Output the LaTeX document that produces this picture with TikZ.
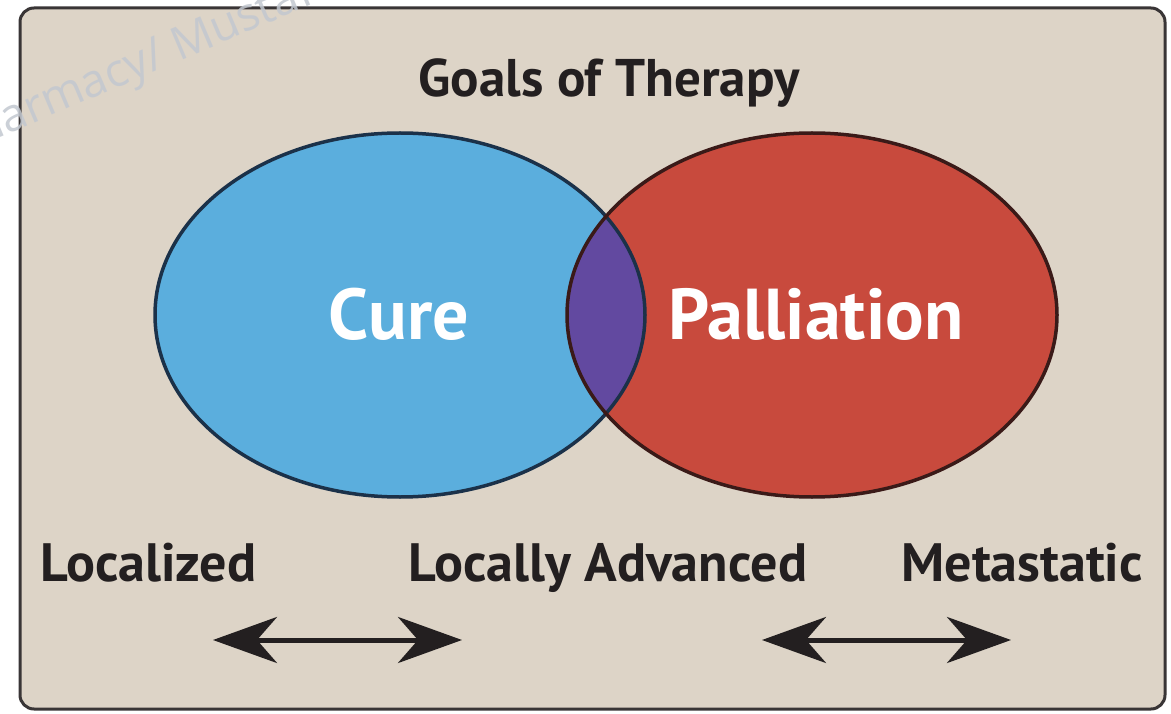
\documentclass[tikz,border=0pt]{standalone}
\usepackage{fontspec}
\setmainfont{PT Sans}
\newfontfamily\markfont{Open Sans}
\usetikzlibrary{arrows.meta}
\definecolor{paper}{HTML}{DDD4C7}
\definecolor{cureblue}{HTML}{5BAEDD}
\definecolor{palred}{HTML}{C84A3D}
\definecolor{overlap}{HTML}{6249A0}
\definecolor{inkdark}{HTML}{231F20}
\definecolor{blueedge}{HTML}{1B3149}
\definecolor{rededge}{HTML}{3A1A18}
\definecolor{markgray}{HTML}{C3C8D0}
\tikzset{
  label/.style={font=\bfseries\fontsize{54}{64}\selectfont, text=inkdark, inner sep=0pt},
  inside/.style={font=\bfseries\fontsize{72}{84}\selectfont, text=white, inner sep=0pt},
  twoway/.style={line width=5pt, draw=inkdark, {Stealth[length=64pt, width=46pt, inset=20pt]}-{Stealth[length=64pt, width=46pt, inset=20pt]}}
}
\begin{document}
\begin{tikzpicture}[x=1pt,y=-1pt]
\useasboundingbox (0,0) rectangle (1171,714);
\fill[white] (0,0) rectangle (1171,714);
\draw[rounded corners=14pt, line width=3pt, draw=inkdark!90, fill=paper] (20,8) rectangle (1165,709);

% the two goals
\fill[cureblue] (400,315) ellipse [x radius=245pt, y radius=182pt];
\fill[palred] (812,315) ellipse [x radius=245pt, y radius=182pt];
\begin{scope}
\clip (400,315) ellipse [x radius=245pt, y radius=182pt];
\fill[overlap] (812,315) ellipse [x radius=245pt, y radius=182pt];
\end{scope}
\draw[line width=3.5pt, blueedge] (400,315) ellipse [x radius=245pt, y radius=182pt];
\draw[line width=3.5pt, rededge] (812,315) ellipse [x radius=245pt, y radius=182pt];

\node[label, font=\bfseries\fontsize{53}{62}\selectfont, anchor=base] (title) at (609,97) {Goals of Therapy};
\node[inside, anchor=base] (cure) at (399,340) {Cure};
\node[inside, anchor=base] (pall) at (816,340) {Palliation};

% stages
\node[label, anchor=base west] (loc) at (40,581) {Localized};
\node[label, anchor=base west] (adv) at (408,581) {Locally Advanced};
\node[label, anchor=base east] (meta) at (1143,581) {Metastatic};

\coordinate (a1) at (213,640);
\coordinate (a2) at (462,640);
\coordinate (b1) at (762,640);
\coordinate (b2) at (1011,640);
\draw[twoway] (a1) -- (a2);
\draw[twoway] (b1) -- (b2);

% watermark
\begin{scope}
\clip (0,0) rectangle (1171,714);
\node[font=\markfont\fontsize{46}{52}\selectfont, text=markgray, opacity=0.85, anchor=base west, rotate=23, inner sep=0pt] (mark) at (-44,156) {Pharmacy/ Mustafa};
\end{scope}
\end{tikzpicture}
\end{document}
